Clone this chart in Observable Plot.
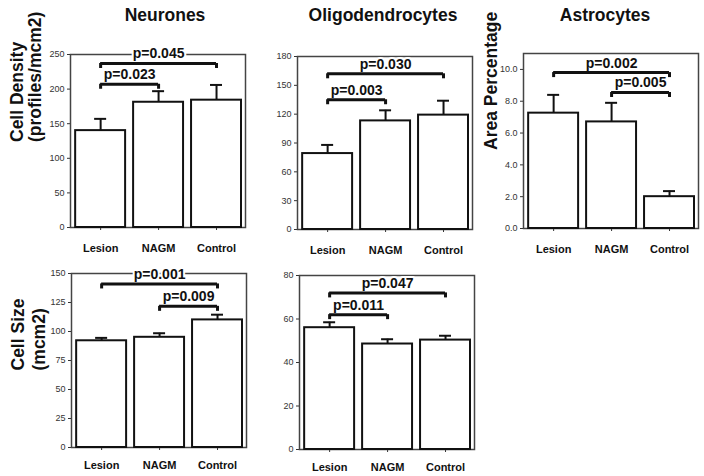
<!DOCTYPE html>
<html>
<head>
<meta charset="utf-8">
<script src="https://cdn.jsdelivr.net/npm/d3@7"></script>
<script src="https://cdn.jsdelivr.net/npm/@observablehq/plot@0.6"></script>
<style>
  body { margin: 0; background: #fff; }
  #root { position: relative; width: 704px; height: 476px; overflow: hidden; font-family: "Liberation Sans", Arial, sans-serif; }
  .title { position: absolute; width: 240px; text-align: center; font-weight: bold; font-size: 17.5px; line-height: 20px; color: #111; }
  .panel { position: absolute; }
</style>
</head>
<body>
<div id="root"></div>
<script>
// ---- data ----
const categories = ["Lesion", "NAGM", "Control"];
const cellTypes = ["Neurones", "Oligodendrocytes", "Astrocytes"];

const neuronDensity = [140, 181, 184];
const neuronDensityErr = [17, 16, 22];
const neuronDensityBrackets = [
  { from: "Lesion", to: "NAGM", y: 207, label: "p=0.023" },
  { from: "Lesion", to: "Control", y: 237, label: "p=0.045" }
];

const oligoDensity = [79, 113, 119];
const oligoDensityErr = [9, 11, 15];
const oligoDensityBrackets = [
  { from: "Lesion", to: "NAGM", y: 135, label: "p=0.003" },
  { from: "Lesion", to: "Control", y: 162, label: "p=0.030" }
];

const astroArea = [7.25, 6.7, 2.0];
const astroAreaErr = [1.15, 1.2, 0.35];
const astroAreaBrackets = [
  { from: "Lesion", to: "Control", y: 9.8, label: "p=0.002" },
  { from: "NAGM", to: "Control", y: 8.55, label: "p=0.005" }
];

const neuronSize = [92, 95, 110];
const neuronSizeErr = [2.5, 3.5, 4.5];
const neuronSizeBrackets = [
  { from: "Lesion", to: "Control", y: 141, label: "p=0.001" },
  { from: "NAGM", to: "Control", y: 121.7, label: "p=0.009" }
];

const oligoSize = [56, 48.5, 50.3];
const oligoSizeErr = [2.5, 2.2, 2.0];
const oligoSizeBrackets = [
  { from: "Lesion", to: "NAGM", y: 62, label: "p=0.011" },
  { from: "Lesion", to: "Control", y: 72, label: "p=0.047" }
];

const densityTicks = [0, 50, 100, 150, 200, 250];
const oligoDensityTicks = [0, 30, 60, 90, 120, 150, 180];
const astroTicks = [0, 2, 4, 6, 8, 10];
const sizeTicks = [0, 25, 50, 75, 100, 125, 150];
const oligoSizeTicks = [0, 20, 40, 60, 80];

const yTitles = ["Cell Density\n(profiles/mcm2)", "Area Percentage", "Cell Size\n(mcm2)"];

// ---- drawing ----
const root = document.getElementById("root");
const FONT = "'Liberation Sans', Arial, sans-serif";

function panel(spec) {
  const mL = spec.mL, mT = 12, mR = 6, mB = 34;
  const rows = categories.map((c, i) => ({ i, c, v: spec.values[i], e: spec.errors[i] }));
  const br = spec.brackets.map(b => ({ a: categories.indexOf(b.from), b: categories.indexOf(b.to), y: b.y, label: b.label }));
  const ends = br.flatMap(d => [{ x: d.a, y: d.y }, { x: d.b, y: d.y }]);
  const marks = [
    Plot.axisY({ ticks: spec.yTicks, tickFormat: spec.fmt, tickSize: 3, tickPadding: 3, fontSize: 9, label: null, stroke: "#333", fill: "#333" }),
    Plot.axisX({ ticks: [0, 1, 2], tickFormat: i => categories[i], tickSize: 3, tickPadding: spec.xPad, fontSize: 11, fontWeight: "bold", label: null, stroke: "#333", fill: "#111" }),
    Plot.frame({ stroke: "#444", strokeWidth: 1.5 }),
    Plot.rectY(rows, { x1: d => d.i - 0.5, x2: d => d.i + 0.5, y: "v", insetLeft: 4, insetRight: 4, fill: "white", stroke: "#111", strokeWidth: 2 }),
    Plot.ruleX(rows, { x: "i", y1: "v", y2: d => d.v + d.e, stroke: "#111", strokeWidth: 2 }),
    Plot.ruleY(rows, { x1: "i", x2: "i", y: d => d.v + d.e, insetLeft: -6, insetRight: -6, stroke: "#111", strokeWidth: 2 }),
    Plot.text(br, { x: d => (d.a + d.b) / 2, y: "y", text: "label", dy: -5, lineAnchor: "bottom", fontSize: 14, fontWeight: "bold", fill: "#111", stroke: "white", strokeWidth: 4, paintOrder: "stroke", strokeLinejoin: "round" }),
    Plot.ruleY(br, { x1: "a", x2: "b", y: "y", stroke: "#111", strokeWidth: 3 }),
    Plot.ruleX(ends, { x: "x", y1: "y", y2: "y", insetBottom: -5, stroke: "#111", strokeWidth: 3 })
  ];
  if (spec.yTitle) {
    marks.push(Plot.text([spec.yTitle], { frameAnchor: "left", rotate: -90, dx: spec.tdx, dy: spec.tdy, fontSize: 17.5, fontWeight: "bold", fill: "#111", lineHeight: spec.lh || 1 }));
  }
  const chart = Plot.plot({
    width: mL + (spec.R - spec.L) + mR,
    height: mT + (spec.B - spec.T) + mB,
    marginLeft: mL, marginTop: mT, marginRight: mR, marginBottom: mB,
    style: { fontFamily: FONT, background: "transparent", color: "#222", overflow: "visible" },
    x: { type: "linear", domain: [-0.52, 2.5] },
    y: { domain: spec.yDomain },
    marks
  });
  const div = document.createElement("div");
  div.className = "panel";
  div.style.left = (spec.L - mL) + "px";
  div.style.top = (spec.T - mT) + "px";
  div.appendChild(chart);
  root.appendChild(div);
}

// column titles
[[cellTypes[0], 165], [cellTypes[1], 383], [cellTypes[2], 605]].forEach(([t, cx]) => {
  const d = document.createElement("div");
  d.className = "title";
  d.textContent = t;
  d.style.left = (cx - 120) + "px";
  d.style.top = "5px";
  root.appendChild(d);
});

panel({ L: 70, R: 245, T: 54, B: 227, mL: 70, values: neuronDensity, errors: neuronDensityErr, brackets: neuronDensityBrackets,
  yDomain: [0, 250], yTicks: densityTicks, fmt: d => String(d), xPad: 14, yTitle: yTitles[0], tdx: -44, tdy: 1 });
panel({ L: 297, R: 472, T: 56, B: 229, mL: 40, values: oligoDensity, errors: oligoDensityErr, brackets: oligoDensityBrackets,
  yDomain: [0, 180], yTicks: oligoDensityTicks, fmt: d => String(d), xPad: 14 });
panel({ L: 523, R: 698, T: 53, B: 228, mL: 50, values: astroArea, errors: astroAreaErr, brackets: astroAreaBrackets,
  yDomain: [0, 11], yTicks: astroTicks, fmt: d => d.toFixed(1), xPad: 14, yTitle: yTitles[1], tdx: -32, tdy: 9 });
panel({ L: 71, R: 246, T: 273, B: 447, mL: 71, values: neuronSize, errors: neuronSizeErr, brackets: neuronSizeBrackets,
  yDomain: [0, 150], yTicks: sizeTicks, fmt: d => String(d), xPad: 11, yTitle: yTitles[2], tdx: -44, tdy: 10, lh: 1.2 });
panel({ L: 299, R: 474, T: 275, B: 449, mL: 40, values: oligoSize, errors: oligoSizeErr, brackets: oligoSizeBrackets,
  yDomain: [0, 80], yTicks: oligoSizeTicks, fmt: d => String(d), xPad: 11 });
</script>
</body>
</html>
